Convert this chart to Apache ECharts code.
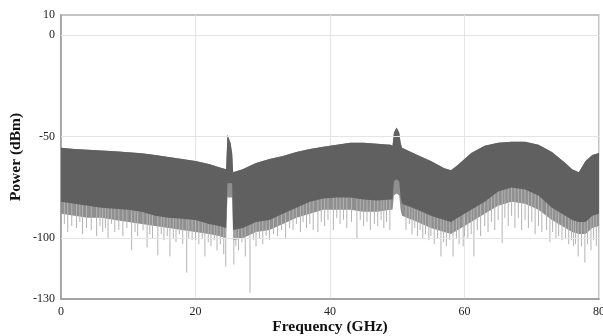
<!DOCTYPE html>
<html>
<head>
<meta charset="utf-8">
<script src="https://cdn.jsdelivr.net/npm/echarts@6/dist/echarts.min.js"></script>
<style>html,body{margin:0;padding:0;background:#fff}#c{width:603px;height:336px}</style>
</head>
<body>
<div id="c"></div>
<script>
// Envelope sample frequencies (GHz)
const freqs = [0, 2, 4, 6, 8, 10, 12, 14, 16, 18, 20, 22, 23.5, 24.55, 24.75, 25.2, 25.45, 25.6, 27, 29, 31, 33, 35, 37, 39, 41, 43, 45, 47, 49, 49.3, 49.5, 49.9, 50.3, 50.5, 50.7, 53, 55, 57, 58, 59, 61, 63, 65, 67, 69, 71, 73, 75, 76, 77, 78, 79, 80];
// Top edge of the dense trace (dBm)
const upperEdge = [-55.5, -56, -56.4, -56.8, -57.2, -57.6, -58.2, -59, -60, -61, -62, -63.5, -65, -66, -49, -53, -58, -67.5, -66, -63, -61, -59.5, -57.5, -56, -55, -54, -53, -53, -53.5, -54, -54.5, -48, -45.5, -48, -53, -55.5, -59, -62, -65.5, -66.5, -64, -58, -54.5, -53, -52.5, -52.5, -54, -57.5, -63, -66, -67.5, -62, -59, -58];
// Bottom edge of the dark, dense part (dBm)
const darkLower = [-82, -83, -84, -85, -85.5, -86, -87, -89, -90, -90.5, -91, -93, -94, -95, -73, -73, -73, -96, -95, -92, -91, -88, -85, -82, -80.5, -80, -80, -81, -81.5, -81, -81, -72, -71, -72, -80, -83, -86, -89, -91, -92, -90, -86, -82, -77, -75, -76, -79, -85, -89, -91, -92, -92, -89, -88];
// Bottom edge of the lighter fringe (dBm)
const lightLower = [-88, -89, -90, -90, -91, -92, -93, -94, -95, -96, -97, -98, -99, -100, -80, -80, -80, -101, -100, -97, -96, -93, -90, -88, -86, -86, -86, -87, -87, -86, -86, -79, -78, -79, -86, -89, -92, -95, -97, -98, -96, -92, -88, -84, -82, -83, -86, -91, -95, -97, -98, -98, -95, -94];
// Deep downward noise spikes: frequency (GHz) and lowest value (dBm)
const spikeFreq = [1, 2.3, 3.2, 4.5, 5.3, 6.2, 7, 8, 9.2, 10.5, 11.4, 12.8, 13.6, 14.4, 15.3, 16.2, 17.1, 18.1, 18.7, 19.5,
  20.5, 21.4, 22.3, 23.2, 24.5, 25.7, 26.4, 27.4, 28.1, 29, 30, 31, 32.2, 33.4, 34.5, 35.6, 36.5, 37.5, 38.2, 39.2,
  40.5, 41.5, 42.5, 44, 45, 46, 47.1, 48, 48.9, 51.3, 52.2, 53, 53.8, 54.7, 55.5, 56.5, 57.3, 58.3, 59.2, 59.8,
  60.5, 61.4, 62.4, 63.5, 64.5, 65.6, 66.5, 67.5, 68.5, 69.5, 70.5, 71.5, 72.7, 73.6, 74.5, 75.5, 76.2, 76.9, 77.9, 78.8, 79.6];
const spikeLow = [-97, -95, -98, -96, -99, -97, -100, -97, -99, -106, -99, -104.5, -100, -108.5, -101, -109, -102, -103, -117, -101,
  -103, -109, -104, -106, -114, -113, -106, -109, -127, -104, -103, -101, -99, -100, -96, -97, -95, -96, -97, -94,
  -96, -93, -95, -100, -94, -96, -94, -95, -96, -96, -98, -99, -100, -101, -103, -109, -104, -109, -103, -104,
  -100, -109, -99, -97, -96, -102.5, -94, -95, -96, -95, -98, -97, -102, -100, -101, -103, -104, -109, -112, -106, -104];
// Shallower spikes between the deep ones
const spikeFreq2 = [0.5, 1.6, 2.8, 3.8, 5.8, 6.6, 7.5, 8.6, 9.8, 11, 12.2, 13.2, 14.9, 15.8, 16.7, 17.6, 19, 20, 21, 21.9, 22.8, 23.7, 24.2,
  26, 26.9, 28.6, 29.5, 30.5, 31.6, 32.8, 34, 35, 36, 37, 38.7, 39.7, 41, 42, 43.2, 44.5, 45.5, 46.6, 47.6, 48.4,
  51.8, 52.6, 53.4, 54.2, 55, 56, 56.9, 57.8, 58.8, 60, 61, 61.9, 63, 64, 65, 66, 67, 68, 69, 70, 71, 72.2, 73.1, 74, 75, 75.9, 76.5, 77.4, 78.3, 79.2];
const spikeLow2 = [-93, -94, -92, -95, -94, -95, -93, -96, -95, -97, -96, -98, -98, -99, -100, -98, -100, -101, -100, -102, -101, -103, -108,
  -104, -102, -101, -100, -99, -98, -96, -95, -93, -92, -93, -92, -91, -90, -91, -92, -91, -92, -93, -91, -92,
  -93, -95, -96, -98, -99, -100, -102, -101, -100, -99, -98, -96, -94, -92, -91, -90, -89, -90, -91, -92, -94, -96, -97, -99, -100, -101, -103, -104, -103, -101];
const xTicks = [0, 20, 40, 60, 80];
const yLabels = [10, 0, -50, -100, -130];
const yGrid = [0, -50, -100];

const serif = '"Liberation Serif", "DejaVu Serif", serif';

function bandRender(topArr, botArr, color) {
  return function (params, api) {
    if (params.dataIndex !== 0) return null;
    const pts = [];
    for (let i = 0; i < freqs.length; i++) pts.push(api.coord([freqs[i], topArr[i]]));
    for (let i = freqs.length - 1; i >= 0; i--) pts.push(api.coord([freqs[i], botArr[i]]));
    return { type: 'polygon', shape: { points: pts }, style: { fill: color } };
  };
}

const spikeData = spikeFreq.map((f, i) => [f, spikeLow[i]])
  .concat(spikeFreq2.map((f, i) => [f, spikeLow2[i]]));

const chart = echarts.init(document.getElementById('c'), null, { renderer: 'canvas' });
chart.setOption({
  animation: false,
  grid: { left: 61, right: 4, top: 15, bottom: 37, outerBoundsMode: 'none', containLabel: false,
    show: true, borderColor: '#b0b0b0', borderWidth: 1.5 },
  xAxis: {
    type: 'value', min: 0, max: 80, interval: 20,
    name: 'Frequency (GHz)', nameLocation: 'middle', nameGap: 20, nameMoveOverlap: false,
    nameTextStyle: { fontFamily: serif, fontWeight: 'bold', fontSize: 15.5, color: '#111' },
    axisLine: { onZero: false, lineStyle: { color: '#999', width: 1.5 } },
    axisTick: { show: false },
    axisLabel: { fontFamily: serif, fontSize: 12, color: '#222', margin: 7 },
    splitLine: { show: true, lineStyle: { color: '#e4e4e4', width: 1 } }
  },
  yAxis: {
    type: 'value', min: -130, max: 10, interval: 10,
    name: 'Power (dBm)', nameLocation: 'middle', nameGap: 37, nameMoveOverlap: false,
    nameTextStyle: { fontFamily: serif, fontWeight: 'bold', fontSize: 15.5, color: '#111' },
    axisLine: { show: true, onZero: false, lineStyle: { color: '#999', width: 1.5 } },
    axisTick: { show: false },
    axisLabel: { fontFamily: serif, fontSize: 12, color: '#222', margin: 6,
      formatter: function (v) { return yLabels.indexOf(v) >= 0 ? String(v) : ''; } },
    splitLine: { show: false }
  },
  series: [
    {
      type: 'line', data: [], silent: true, z: 1,
      markLine: {
        silent: true, symbol: 'none', label: { show: false },
        lineStyle: { color: '#e4e4e4', type: 'solid', width: 1 },
        data: yGrid.map(v => ({ yAxis: v }))
      }
    },
    {
      type: 'custom', z: 2, silent: true, clip: true,
      renderItem: bandRender(upperEdge, lightLower, '#8f8f8f'),
      data: freqs.map((f, i) => [f, upperEdge[i], lightLower[i]]),
      encode: { x: 0, y: [1, 2] }
    },
    {
      type: 'custom', z: 3, silent: true, clip: true,
      renderItem: function (params, api) {
        const f = api.value(0), lo = api.value(1);
        const p1 = api.coord([f, -70]);
        const p2 = api.coord([f, lo]);
        return { type: 'line', shape: { x1: p1[0], y1: p1[1], x2: p2[0], y2: p2[1] },
          style: { stroke: '#b3b3b3', lineWidth: 1 } };
      },
      data: spikeData,
      encode: { x: 0, y: 1 }
    },
    {
      type: 'custom', z: 4, silent: true, clip: true,
      renderItem: bandRender(upperEdge, darkLower, '#606060'),
      data: freqs.map((f, i) => [f, upperEdge[i], darkLower[i]]),
      encode: { x: 0, y: [1, 2] }
    }
  ]
});
</script>
</body>
</html>
